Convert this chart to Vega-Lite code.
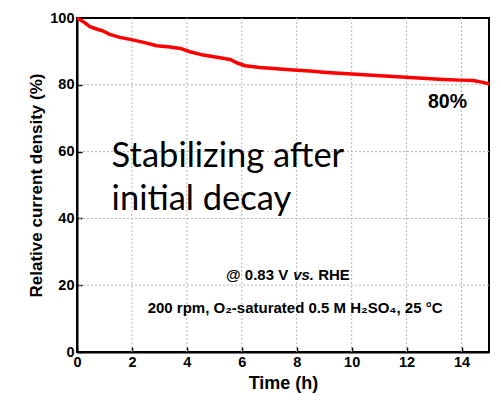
{
  "$schema": "https://vega.github.io/schema/vega-lite/v6.json",
  "width": 412,
  "height": 334,
  "autosize": {"type": "none"},
  "padding": {"left": 77, "top": 18, "right": 12, "bottom": 52},
  "background": "white",
  "config": {
    "view": {"stroke": "black", "strokeWidth": 2},
    "axis": {
      "domainColor": "black", "domainWidth": 2,
      "tickColor": "black", "tickWidth": 1.5,
      "labelFont": "Liberation Sans", "labelFontWeight": "bold", "labelFontSize": 14.5, "labelColor": "black",
      "titleFont": "Liberation Sans", "titleFontWeight": "bold", "titleColor": "black"
    }
  },
  "datasets": {
    "decay": [
      {"t": 0, "v": 100}, {"t": 0.23, "v": 98.9}, {"t": 0.47, "v": 97.4}, {"t": 0.71, "v": 96.7},
      {"t": 0.95, "v": 96.1}, {"t": 1.19, "v": 95.1}, {"t": 1.56, "v": 94.2}, {"t": 1.93, "v": 93.6},
      {"t": 2.43, "v": 92.7}, {"t": 2.9, "v": 91.7}, {"t": 3.39, "v": 91.3}, {"t": 3.76, "v": 90.9},
      {"t": 4.11, "v": 89.9}, {"t": 4.6, "v": 88.9}, {"t": 5.2, "v": 88.1}, {"t": 5.57, "v": 87.6},
      {"t": 5.81, "v": 86.6}, {"t": 6.12, "v": 85.7}, {"t": 6.66, "v": 85.2}, {"t": 7.27, "v": 84.8},
      {"t": 7.87, "v": 84.4}, {"t": 8.48, "v": 84.1}, {"t": 9.09, "v": 83.7}, {"t": 9.7, "v": 83.4},
      {"t": 10.3, "v": 83.1}, {"t": 10.9, "v": 82.8}, {"t": 11.51, "v": 82.5}, {"t": 12.12, "v": 82.2},
      {"t": 12.73, "v": 81.9}, {"t": 13.33, "v": 81.6}, {"t": 13.94, "v": 81.4}, {"t": 14.42, "v": 81.3},
      {"t": 14.73, "v": 80.8}, {"t": 15, "v": 80.3}
    ],
    "xgrid": [{"t": 2}, {"t": 4}, {"t": 6}, {"t": 8}, {"t": 10}, {"t": 12}, {"t": 14}],
    "ygrid": [{"v": 20}, {"v": 40}, {"v": 60}, {"v": 80}]
  },
  "layer": [
    {
      "data": {"name": "xgrid"},
      "mark": {"type": "rule", "color": "#b4b4b4", "strokeWidth": 1, "strokeDash": [2, 2]},
      "encoding": {"x": {"field": "t", "type": "quantitative", "scale": {"domain": [0, 15], "nice": false}}}
    },
    {
      "data": {"name": "ygrid"},
      "mark": {"type": "rule", "color": "#b4b4b4", "strokeWidth": 1, "strokeDash": [2, 2]},
      "encoding": {"y": {"field": "v", "type": "quantitative", "scale": {"domain": [0, 100], "nice": false}}}
    },
    {
      "data": {"name": "decay"},
      "mark": {"type": "line", "color": "#ff0000", "strokeWidth": 3.5, "strokeJoin": "round"},
      "encoding": {
        "x": {"field": "t", "type": "quantitative", "scale": {"domain": [0, 15], "nice": false},
              "axis": {"values": [0, 1, 2, 3, 4, 5, 6, 7, 8, 9, 10, 11, 12, 13, 14, 15], "grid": false,
                       "labelExpr": "datum.value % 2 === 0 ? datum.label : ''",
                       "tickSize": {"condition": {"test": "datum.value % 2 === 1", "value": -3}, "value": -5},
                       "title": "Time (h)", "titleFontSize": 18, "labelPadding": 8, "titlePadding": 6, "labelFlush": false}},
        "y": {"field": "v", "type": "quantitative", "scale": {"domain": [0, 100], "nice": false},
              "axis": {"values": [0, 10, 20, 30, 40, 50, 60, 70, 80, 90, 100], "grid": false,
                       "labelExpr": "datum.value % 20 === 0 ? datum.label : ''",
                       "tickSize": {"condition": {"test": "datum.value % 20 === 10", "value": -3}, "value": -5},
                       "title": "Relative current density (%)", "titleFontSize": 17, "labelPadding": 8, "titlePadding": 4, "labelFlush": false}}
      }
    },
    {
      "data": {"values": [{"t": 13.49, "v": 73.05, "label": "80%"}]},
      "mark": {"type": "text", "font": "Liberation Sans", "fontWeight": "bold", "fontSize": 19.5, "align": "center", "baseline": "alphabetic", "color": "black"},
      "encoding": {"x": {"field": "t", "type": "quantitative"}, "y": {"field": "v", "type": "quantitative"}, "text": {"field": "label"}}
    },
    {
      "data": {"values": [{"t": 1.26, "v": 55.5, "label": "Stabilizing after"}, {"t": 1.26, "v": 42.5, "label": "initial decay"}]},
      "mark": {"type": "text", "font": "Lato", "fontSize": 34.5, "align": "left", "baseline": "alphabetic", "color": "black"},
      "encoding": {"x": {"field": "t", "type": "quantitative"}, "y": {"field": "v", "type": "quantitative"}, "text": {"field": "label"}}
    },
    {
      "data": {"values": [{"t": 7.69, "v": 21.47, "label": "@ 0.83 V"}]},
      "mark": {"type": "text", "font": "Liberation Sans", "fontWeight": "bold", "fontSize": 15, "align": "right", "baseline": "alphabetic", "color": "black"},
      "encoding": {"x": {"field": "t", "type": "quantitative"}, "y": {"field": "v", "type": "quantitative"}, "text": {"field": "label"}}
    },
    {
      "data": {"values": [{"t": 8.78, "v": 21.47, "label": "RHE"}]},
      "mark": {"type": "text", "font": "Liberation Sans", "fontWeight": "bold", "fontSize": 15, "align": "left", "baseline": "alphabetic", "color": "black"},
      "encoding": {"x": {"field": "t", "type": "quantitative"}, "y": {"field": "v", "type": "quantitative"}, "text": {"field": "label"}}
    },
    {
      "data": {"values": [{"t": 7.87, "v": 21.47, "label": "vs."}]},
      "mark": {"type": "text", "font": "Liberation Sans", "fontWeight": "bold", "fontStyle": "italic", "fontSize": 15, "align": "left", "baseline": "alphabetic", "color": "black"},
      "encoding": {"x": {"field": "t", "type": "quantitative"}, "y": {"field": "v", "type": "quantitative"}, "text": {"field": "label"}}
    },
    {
      "data": {"values": [{"t": 7.94, "v": 11.6, "label": "200 rpm, O₂-saturated 0.5 M H₂SO₄, 25 °C"}]},
      "mark": {"type": "text", "font": "Liberation Sans", "fontWeight": "bold", "fontSize": 15, "align": "center", "baseline": "alphabetic", "color": "black"},
      "encoding": {"x": {"field": "t", "type": "quantitative"}, "y": {"field": "v", "type": "quantitative"}, "text": {"field": "label"}}
    }
  ]
}
